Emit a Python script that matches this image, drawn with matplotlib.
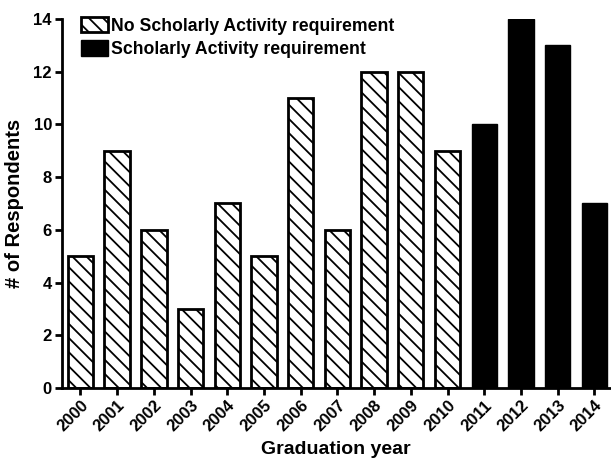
import matplotlib.pyplot as plt
import numpy as np

# rendered at 85 dpi so the hatch spacing comes out ~7 px; sizes scaled to match
DPI = 85
k = 100 / DPI

plt.rcParams['font.family'] = ['Liberation Sans', 'DejaVu Sans']
plt.rcParams['font.weight'] = 'bold'
plt.rcParams['hatch.linewidth'] = 1.3 * k

years_no = ['2000', '2001', '2002', '2003', '2004', '2005', '2006', '2007', '2008', '2009', '2010']
counts_no = [5, 9, 6, 3, 7, 5, 11, 6, 12, 12, 9]
years_req = ['2011', '2012', '2013', '2014']
counts_req = [10, 14, 13, 7]

labels = years_no + years_req
x_no = np.arange(len(years_no))
x_req = np.arange(len(years_no), len(labels))

fig = plt.figure(figsize=(611 / DPI, 463 / DPI), dpi=DPI)
ax = fig.add_axes([0.101, 0.162, 0.897, 0.797])

ax.bar(x_no, counts_no, width=0.69, color='white', edgecolor='black',
       linewidth=2 * k, hatch='\\\\', label='No Scholarly Activity requirement')
ax.bar(x_req, counts_req, width=0.69, color='black', edgecolor='black',
       linewidth=1 * k, label='Scholarly Activity requirement')

ax.set_xlim(-0.51, 14.42)
ax.set_ylim(0, 14)
ax.set_yticks(range(0, 15, 2))
ax.set_xticks(np.arange(len(labels)))
ax.set_xticklabels(labels, rotation=45, ha='right', rotation_mode='anchor')

for s in ['top', 'right']:
    ax.spines[s].set_visible(False)
for s in ['left', 'bottom']:
    ax.spines[s].set_linewidth(2 * k)
ax.tick_params(direction='out', length=5 * k, width=2 * k, labelsize=12 * k, pad=2 * k)

ax.set_xlabel('Graduation year', fontsize=14 * k, fontweight='bold')
ax.xaxis.set_label_coords(0.5, -0.144)
ax.set_ylabel('# of Respondents', fontsize=14.5 * k, fontweight='bold')
ax.yaxis.set_label_coords(-0.068, 0.5)

leg = ax.legend(loc='upper left', bbox_to_anchor=(0.013, 1.04), frameon=False,
                fontsize=12.7 * k, handlelength=1.5, handleheight=1.0,
                handletextpad=0.2, labelspacing=0.3, borderaxespad=0.3)

plt.savefig('out.png', dpi=DPI)
